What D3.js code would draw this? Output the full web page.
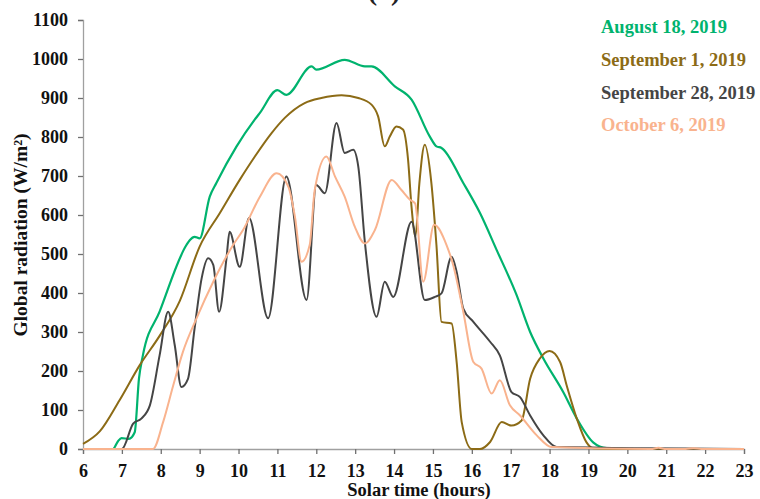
<!DOCTYPE html>
<html>
<head>
<meta charset="utf-8">
<script src="https://cdn.jsdelivr.net/npm/d3@7"></script>
<style>
  body { margin: 0; background: #fff; }
  text { font-family: "Liberation Serif", "Times New Roman", serif; font-weight: bold; }
</style>
</head>
<body>
<div id="chart-area"></div>
<script>
const chartSize = { width: 760, height: 499 };
const margin = { left: 83, right: 16, top: 20, bottom: 50 };

const xTicks = [6, 7, 8, 9, 10, 11, 12, 13, 14, 15, 16, 17, 18, 19, 20, 21, 22, 23];
const yTicks = [0, 100, 200, 300, 400, 500, 600, 700, 800, 900, 1000, 1100];

const seriesNames = ['August 18, 2019', 'September 1, 2019', 'September 28, 2019', 'October 6, 2019'];
const seriesColors = ['#00b36e', '#8c6b16', '#454545', '#f9b38e'];

const aug18Hours = [6, 6.77, 6.9, 6.99, 7.18, 7.33, 7.44, 7.54, 7.97, 8.66, 8.75, 8.87, 9.0, 9.26, 9.43, 9.95, 10.42, 10.55, 11.0, 11.23, 11.88, 12.0, 12.73, 13.25, 13.42, 14.02, 14.45, 14.92, 15.09, 15.22, 15.78, 16.21, 16.64, 17.15, 17.5, 17.84, 18.35, 18.7, 19.12, 19.47, 20, 23];
const aug18Values = [0, 0, 20, 28, 26, 43, 181, 240, 352, 523, 536, 544, 540, 647, 682, 776, 845, 862, 920, 908, 981, 973, 998, 981, 981, 930, 896, 801, 776, 772, 682, 605, 510, 395, 300, 232, 146, 78, 17, 2, 0, 0];

const sep1Hours = [6, 6.43, 6.94, 7.46, 7.97, 8.49, 9.0, 9.52, 10.03, 10.42, 10.85, 11.19, 11.7, 12.13, 12.65, 13.08, 13.42, 13.59, 13.76, 13.89, 14.06, 14.23, 14.36, 14.45, 14.55, 14.65, 14.79, 14.96, 15.09, 15.22, 15.48, 15.61, 15.74, 16.0, 16.21, 16.47, 16.77, 17.02, 17.28, 17.5, 17.75, 18.0, 18.27, 18.44, 18.7, 18.95, 19.12, 19.5, 23];
const sep1Values = [13, 45, 125, 215, 290, 380, 519, 605, 690, 750, 810, 849, 887, 900, 907, 900, 883, 853, 776, 801, 827, 819, 742, 620, 545, 680, 780, 682, 523, 326, 322, 223, 69, 0, 0, 18, 69, 60, 73, 180, 232, 251, 223, 163, 78, 17, 2, 0, 0];

const sep28Hours = [6, 7.0, 7.29, 7.5, 7.72, 7.97, 8.19, 8.36, 8.53, 8.7, 8.87, 9.05, 9.22, 9.35, 9.5, 9.69, 9.77, 10.03, 10.27, 10.76, 11.23, 11.75, 12.0, 12.22, 12.52, 12.73, 12.95, 13.08, 13.25, 13.55, 13.76, 13.98, 14.45, 14.79, 15.05, 15.22, 15.48, 15.61, 15.78, 16.04, 16.47, 16.72, 17.02, 17.24, 17.5, 17.84, 18.18, 23];
const sep28Values = [0, 0, 65, 78, 112, 240, 352, 266, 159, 180, 309, 437, 489, 472, 352, 489, 557, 467, 592, 335, 699, 382, 677, 656, 836, 759, 767, 724, 530, 339, 429, 390, 583, 382, 390, 399, 493, 454, 360, 326, 275, 240, 146, 133, 86, 35, 5, 0];

const oct6Hours = [6, 7.8, 8.06, 8.32, 8.57, 8.92, 9.35, 9.86, 10.12, 10.55, 10.98, 11.28, 11.45, 11.62, 11.83, 11.96, 12.26, 12.48, 12.73, 12.99, 13.25, 13.51, 13.94, 14.19, 14.41, 14.54, 14.75, 15.03, 15.35, 15.52, 15.78, 16.04, 16.25, 16.51, 16.72, 16.98, 17.24, 17.67, 18.05, 20.6, 20.8, 21.0, 21.5, 21.7, 21.9, 23];
const oct6Values = [0, 0, 69, 163, 249, 335, 429, 523, 562, 647, 707, 673, 596, 480, 523, 664, 750, 699, 647, 570, 527, 562, 690, 664, 639, 630, 429, 575, 523, 472, 352, 223, 206, 142, 176, 112, 86, 35, 5, 0, 3, 0, 0, 2, 0, 0];

const seriesHours = [aug18Hours, sep1Hours, sep28Hours, oct6Hours];
const seriesValues = [aug18Values, sep1Values, sep28Values, oct6Values];

const drawChart = () => {
  const svg = d3.select('#chart-area').append('svg')
    .attr('width', chartSize.width)
    .attr('height', chartSize.height);

  const x = d3.scaleLinear()
    .domain([6, 23])
    .range([margin.left, chartSize.width - margin.right]);

  const y = d3.scaleLinear()
    .domain([0, 1100])
    .range([chartSize.height - margin.bottom, margin.top]);

  // panel label, mostly cropped off the top in the source
  svg.append('text')
    .attr('x', 384)
    .attr('y', 0)
    .attr('text-anchor', 'middle')
    .attr('font-size', 28)
    .attr('font-weight', 'normal')
    .attr('fill', '#222')
    .text('(a)');

  const yAxis = svg.append('g')
    .attr('transform', `translate(${margin.left},0)`)
    .call(d3.axisLeft(y).tickValues(yTicks).tickFormat(d3.format('d')).tickSize(5).tickPadding(10));

  const xAxis = svg.append('g')
    .attr('transform', `translate(0,${y(0)})`)
    .call(d3.axisBottom(x).tickValues(xTicks).tickFormat(d3.format('d')).tickSize(5).tickPadding(10));

  [xAxis, yAxis].forEach(g => {
    g.select('.domain').attr('stroke', '#a0a0a0').attr('stroke-width', 1.3);
    g.selectAll('.tick line').attr('stroke', '#707070').attr('stroke-width', 1.3);
    g.selectAll('.tick text')
      .attr('fill', '#111')
      .attr('font-size', 18)
      .attr('font-family', '"Liberation Serif", serif')
      .attr('font-weight', 'bold');
  });

  const line = d3.line()
    .x(d => x(d[0]))
    .y(d => y(d[1]))
    .curve(d3.curveMonotoneX);

  seriesNames.forEach((name, i) => {
    const pts = seriesHours[i].map((h, j) => [h, seriesValues[i][j]]);
    svg.append('path')
      .datum(pts)
      .attr('fill', 'none')
      .attr('stroke', seriesColors[i])
      .attr('stroke-width', i === 0 ? 2.2 : 2)
      .attr('d', line);
  });

  const legendY = [33, 66, 99, 131];
  seriesNames.forEach((name, i) => {
    svg.append('text')
      .attr('x', 601)
      .attr('y', legendY[i])
      .attr('font-size', 18.5)
      .attr('fill', seriesColors[i])
      .text(name);
  });

  svg.append('text')
    .attr('x', 419)
    .attr('y', 496)
    .attr('text-anchor', 'middle')
    .attr('font-size', 18.5)
    .attr('fill', '#111')
    .text('Solar time (hours)');

  svg.append('text')
    .attr('transform', `translate(27,235) rotate(-90)`)
    .attr('text-anchor', 'middle')
    .attr('font-size', 19.5)
    .attr('fill', '#111')
    .text('Global radiation (W/m²)');
}

window.onload = drawChart;
</script>
</body>
</html>
